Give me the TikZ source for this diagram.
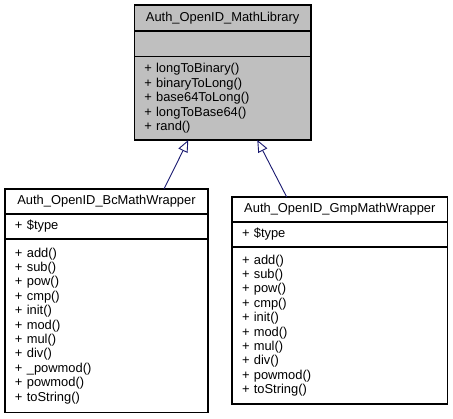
\documentclass[tikz,border=0pt]{standalone}
\usepackage{fontspec}
\setmainfont{Liberation Sans}
\usetikzlibrary{arrows.meta}
\definecolor{edgeblue}{HTML}{191970}
\definecolor{basegray}{HTML}{BFBFBF}

\begin{document}
\begin{tikzpicture}[x=1pt, y=-1pt,
	part/.style={draw=black, line width=1.1pt, anchor=north west, outer sep=0pt,
	  inner xsep=10pt, inner ysep=0pt, align=left, font=\fontsize{12.9}{14.4}\selectfont},
	title/.style={part, align=center},
	inherit/.style={edgeblue, line width=0.9pt, -{Triangle[open, length=12pt, width=10pt, fill=white]}}]
	\useasboundingbox (0,0) rectangle (453,419);
	% base class
	\node[title, fill=basegray, text width=156.7pt, minimum height=26pt] (libname) at (134.3,5) {Auth\_OpenID\_MathLibrary};
	\node[part, fill=basegray, text width=156.7pt, minimum height=25.7pt] (libattr) at (134.3,31) {};
	\node[part, fill=basegray, text width=156.7pt, minimum height=83.3pt] (libops) at (134.3,56.7)
	  {+ longToBinary()\\+ binaryToLong()\\+ base64ToLong()\\+ longToBase64()\\+ rand()};
	% bcmath wrapper
	\node[title, text width=183pt, minimum height=25pt] (bcname) at (5,189) {Auth\_OpenID\_BcMathWrapper};
	\node[part, text width=183pt, minimum height=25pt] (bcattr) at (5,214) {+ \$type};
	\node[part, text width=183pt, minimum height=173.7pt] (bcops) at (5,239)
	  {+ add()\\+ sub()\\+ pow()\\+ cmp()\\+ init()\\+ mod()\\+ mul()\\+ div()\\+ \_powmod()\\+ powmod()\\+ toString()};
	% gmp wrapper
	\node[title, text width=195.7pt, minimum height=25pt] (gmpname) at (232,197) {Auth\_OpenID\_GmpMathWrapper};
	\node[part, text width=195.7pt, minimum height=25pt] (gmpattr) at (232,222) {+ \$type};
	\node[part, text width=195.7pt, minimum height=157pt] (gmpops) at (232,247)
	  {+ add()\\+ sub()\\+ pow()\\+ cmp()\\+ init()\\+ mod()\\+ mul()\\+ div()\\+ powmod()\\+ toString()};
	% inheritance
	\draw[inherit] (bcname.north -| 164,0) -- (libops.south -| 188.3,0);
	\draw[inherit] (gmpname.north -| 286.7,0) -- (libops.south -| 257.3,0);
\end{tikzpicture}
\end{document}
